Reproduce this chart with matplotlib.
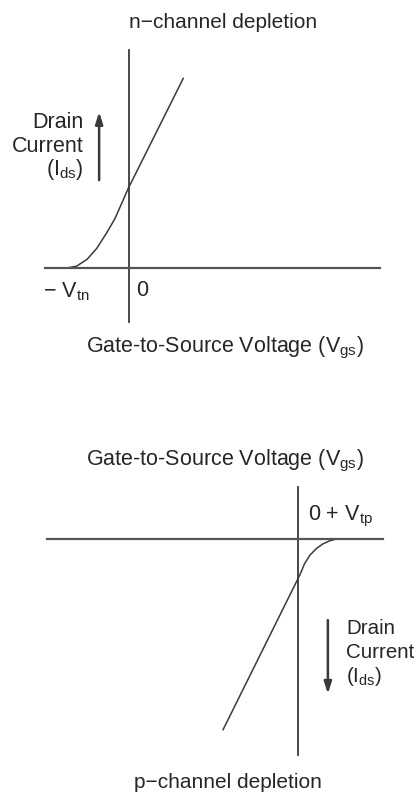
import matplotlib
matplotlib.use("Agg")
import matplotlib.pyplot as plt

plt.rcParams['font.family'] = ['Liberation Sans', 'DejaVu Sans']
plt.rcParams['mathtext.fontset'] = 'custom'
plt.rcParams['mathtext.rm'] = 'Liberation Sans'
plt.rcParams['mathtext.it'] = 'Liberation Sans'

# n-channel depletion: Vgs vs Ids (arbitrary units, Vtn ~ 1)
n_vgs = [-1.02, -0.86, -0.69, -0.53, -0.37, -0.23, -0.12, -0.01, 0.89]
n_ids = [0.0, 0.03, 0.14, 0.32, 0.57, 0.81, 1.06, 1.31, 3.11]

# p-channel depletion: Vgs vs Ids (current drawn downward)
p_vgs = [0.63, 0.52, 0.41, 0.31, 0.20, 0.11, 0.03, -1.23]
p_ids = [0.0, -0.03, -0.08, -0.15, -0.26, -0.40, -0.59, -3.13]

LINE = '#3a3a3a'
AXC = '#555555'
TXT = '#262626'

W, H = 417, 792
fig = plt.figure(figsize=(W / 100, H / 100), dpi=100)


def ftext(x, y, s, **kw):
    # place text using pixel position in the figure
    fig.text(x / W, 1 - y / H, s, color=TXT, **kw)


def setup(ax, xlim, ylim, xb, yb):
    ax.set_xlim(*xlim)
    ax.set_ylim(*ylim)
    for s in ['top', 'right']:
        ax.spines[s].set_visible(False)
    ax.spines['left'].set_position(('data', 0))
    ax.spines['bottom'].set_position(('data', 0))
    ax.spines['left'].set_bounds(*yb)
    ax.spines['bottom'].set_bounds(*xb)
    ax.spines['left'].set_color(LINE)
    ax.spines['bottom'].set_color(AXC)
    ax.spines['left'].set_linewidth(1.3)
    ax.spines['bottom'].set_linewidth(1.6)
    ax.set_xticks([])
    ax.set_yticks([])
    ax.patch.set_alpha(0)


FS = 15.5
ARROW = dict(arrowstyle='-|>,head_length=0.7,head_width=0.22',
             color=LINE, lw=1.8, shrinkA=0, shrinkB=0)

# top panel
ax1 = fig.add_axes([0, 0.5, 1, 0.5])
setup(ax1, (-2.115, 4.721), (-2.098, 4.393), (-1.377, 4.115), (-0.885, 3.574))
ax1.plot(n_vgs, n_ids, color=LINE, lw=1.1, solid_capstyle='round')
ax1.annotate('', xy=(-0.49, 2.56), xytext=(-0.49, 1.44), arrowprops=ARROW)

ftext(223, 23, 'n\u2212channel depletion', fontsize=15, ha='center', va='center')
ftext(84, 122, 'Drain', fontsize=FS, ha='right', va='center')
ftext(84, 146, 'Current', fontsize=FS, ha='right', va='center')
ftext(84, 170, '(I$_{\\mathrm{ds}}$)', fontsize=FS, ha='right', va='center')
ftext(43, 292, '\u2212 V$_{\\mathrm{tn}}$', fontsize=FS, ha='left', va='center')
ftext(136, 290, '0', fontsize=FS, ha='left', va='center')
ftext(225, 348, 'Gate-to-Source Voltage (V$_{\\mathrm{gs}}$)', fontsize=FS,
      ha='center', va='center')

# bottom panel
ax2 = fig.add_axes([0, 0, 1, 0.5])
setup(ax2, (-4.885, 1.951), (-4.148, 2.344), (-4.115, 1.393), (-3.541, 0.852))
ax2.plot(p_vgs, p_ids, color=LINE, lw=1.1, solid_capstyle='round')
ax2.annotate('', xy=(0.49, -2.54), xytext=(0.49, -1.33), arrowprops=ARROW)

ftext(225, 461, 'Gate-to-Source Voltage (V$_{\\mathrm{gs}}$)', fontsize=FS,
      ha='center', va='center')
ftext(308, 516, '0 + V$_{\\mathrm{tp}}$', fontsize=FS, ha='left', va='center')
ftext(346, 628, 'Drain', fontsize=14.8, ha='left', va='center')
ftext(346, 652, 'Current', fontsize=14.8, ha='left', va='center')
ftext(346, 677, '(I$_{\\mathrm{ds}}$)', fontsize=14.8, ha='left', va='center')
ftext(228, 782, 'p\u2212channel depletion', fontsize=15, ha='center', va='center')

fig.savefig('out.png', dpi=100, facecolor='white')
